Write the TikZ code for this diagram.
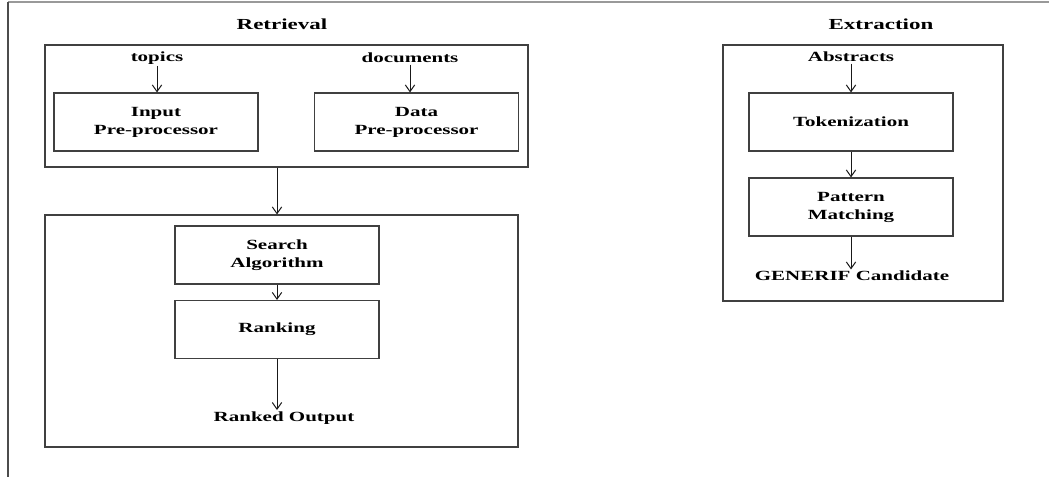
\documentclass[tikz,border=0pt]{standalone}
\usepackage{fontspec}
\setmainfont{Liberation Serif}[FakeStretch=1.5]
\usepackage{tikz}
\usetikzlibrary{arrows.meta}
\tikzstyle{group} = [rectangle, draw=black!75, line width=0.8pt, inner sep=0pt]
\tikzstyle{process} = [rectangle, minimum width=153pt, minimum height=43.5pt, text centered, align=center, draw=black!75, line width=0.8pt, inner sep=0pt, font=\fontsize{10.5pt}{13.5pt}\selectfont\bfseries]
\tikzstyle{label} = [inner sep=1pt, font=\fontsize{10.5pt}{13.5pt}\selectfont\bfseries]
\tikzstyle{title} = [inner sep=1pt, font=\fontsize{11.5pt}{14pt}\selectfont\bfseries]
\tikzstyle{arrow} = [line width=0.75pt, ->, >={Straight Barb[length=5pt,width=7pt]}, black!90]

\begin{document}
\begin{tikzpicture}[x=0.75pt, y=-0.75pt]
	\useasboundingbox (0,0) rectangle (1049,477);
	\draw [black!40, line width=0.8pt] (8,2) -- (1049,2);
	\draw [black!70, line width=0.8pt] (8,2) -- (8,477);
	
	% retrieval side
	\node (rtitle) [title] at (282,24) {Retrieval};
	\node (prep) [group, minimum width=362.25pt, minimum height=91.5pt] at (286.5,106) {};
	\node (topics) [label] at (157,58) {topics};
	\node (docs) [label] at (410,58) {documents};
	\node (inp) [process] at (156,122) {Input\\Pre-processor};
	\node (data) [process] at (416.5,122) {Data\\Pre-processor};
	
	\draw [arrow] (topics) -- (topics |- inp.north);
	\draw [arrow] (docs) -- (docs |- data.north);
	
	\node (core) [group, minimum width=354.75pt, minimum height=174pt] at (281.5,331) {};
	\node (srch) [process] at (277,255) {Search\\Algorithm};
	\node (rank) [process] at (277,329.5) {Ranking};
	\node (rout) [label] at (284,418) {Ranked Output};
	
	\draw [arrow] (srch |- prep.south) -- (srch |- core.north);
	\draw [arrow] (srch) -- (rank);
	\draw [arrow] (rank) -- (rank |- rout.north);
	
	% extraction side
	\node (etitle) [title] at (881,24) {Extraction};
	\node (extr) [group, minimum width=210pt, minimum height=192pt] at (863,173) {};
	\node (abst) [label] at (851,57) {Abstracts};
	\node (tok) [process] at (851,122) {Tokenization};
	\node (pat) [process] at (851,207) {Pattern\\Matching};
	\node (gen) [label] at (852,276) {GENERIF Candidate};
	
	\draw [arrow] (abst) -- (abst |- tok.north);
	\draw [arrow] (tok) -- (pat);
	\draw [arrow] (pat) -- (pat |- gen.north);
	
\end{tikzpicture}
\end{document}
